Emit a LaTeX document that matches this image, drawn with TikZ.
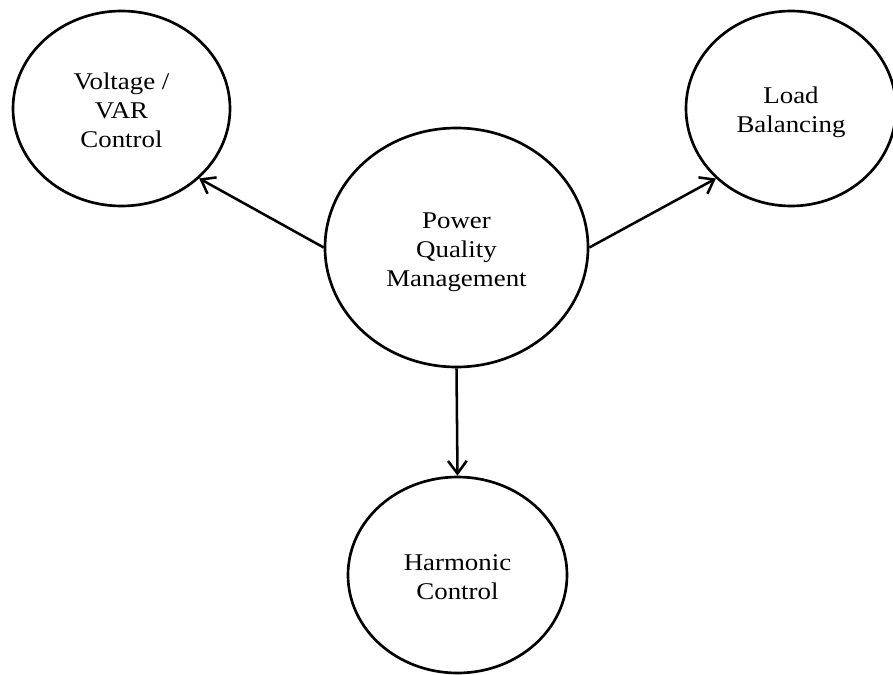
\documentclass[tikz,border=0pt]{standalone}
\usepackage{fontspec}
\setmainfont{Liberation Serif}
\usepackage{graphicx}
\usetikzlibrary{shapes.geometric,arrows.meta}

% slightly widened serif labels, stacked and centred, drawn a little low
% while keeping the box size the shape is centred on
\newcommand{\bubbletext}[1]{\raisebox{-3pt}[\height][\depth]{\scalebox{1.12}[1]{\begin{tabular}{@{}c@{}}#1\end{tabular}}}}

\tikzset{
  bubble/.style={ellipse, draw=black, line width=2pt, inner sep=0pt,
    font=\fontsize{18}{21.75}\selectfont},
  link/.style={line width=1.9pt, -{Straight Barb[length=9.5pt,width=14pt,line width=1.9pt]}}
}

\begin{document}
\begin{tikzpicture}[x=0.75pt,y=0.75pt]
  \useasboundingbox (0,0) rectangle (893,-675);

  \node[bubble, minimum width=197.25pt, minimum height=179.25pt] (pqm) at (456.5,-247.5)
    {\bubbletext{Power\\Quality\\Management}};
  \node[bubble, minimum width=162.75pt, minimum height=146.25pt] (var) at (121.5,-108.5)
    {\bubbletext{Voltage /\\VAR\\Control}};
  \node[bubble, minimum width=157.5pt, minimum height=146.25pt] (load) at (791,-108.5)
    {\bubbletext{Load\\Balancing}};
  \node[bubble, minimum width=164.25pt, minimum height=147pt] (harm) at (457.5,-575)
    {\bubbletext{Harmonic\\Control}};

  \draw[link] (pqm.west) -- (var.-42.3);
  \draw[link] (pqm.east) -- (load.223.6);
  \draw[link] (pqm.south) -- (harm.north);
\end{tikzpicture}
\end{document}
